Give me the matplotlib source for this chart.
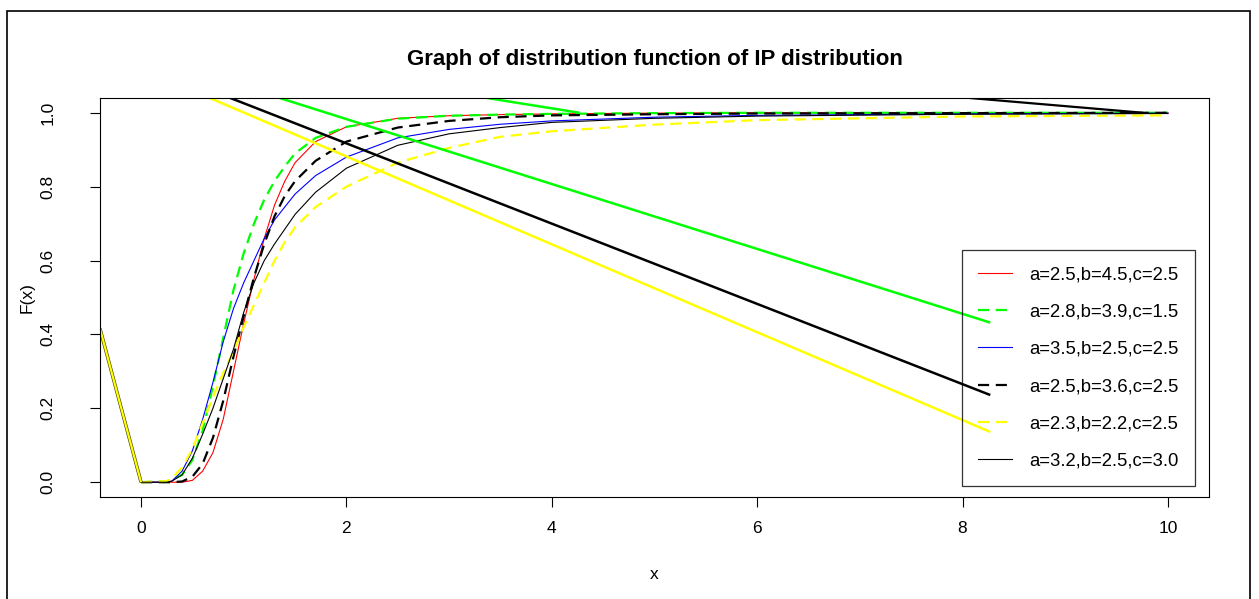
import numpy as np
import matplotlib
matplotlib.use("Agg")
import matplotlib.pyplot as plt
from matplotlib.lines import Line2D
from matplotlib.patches import Rectangle

plt.rcParams['font.family'] = ['Liberation Sans', 'DejaVu Sans']

# x values the curves were read at
x_vals = [0, 0.25, 0.3, 0.4, 0.5, 0.6, 0.7, 0.8, 0.9, 1.0, 1.1, 1.2, 1.3,
          1.4, 1.5, 1.7, 2.0, 2.5, 3.0, 3.5, 4.0, 5.0, 6.0, 8.0, 10.0]

# F(x) for each parameter set
F_red = [0, 0, 0, 0, 0.005, 0.03, 0.08, 0.17, 0.30, 0.43, 0.55, 0.66, 0.75,
         0.815, 0.865, 0.922, 0.962, 0.985, 0.992, 0.995, 0.997, 0.999, 1.0, 1.0, 1.0]
F_green = [0, 0.003, 0.006, 0.02, 0.06, 0.14, 0.26, 0.39, 0.52, 0.62, 0.70, 0.765, 0.815,
           0.855, 0.89, 0.932, 0.962, 0.984, 0.992, 0.995, 0.997, 0.999, 1.0, 1.0, 1.0]
F_blue = [0, 0, 0.003, 0.03, 0.085, 0.17, 0.27, 0.38, 0.47, 0.54, 0.60, 0.66, 0.71,
          0.745, 0.78, 0.83, 0.88, 0.932, 0.955, 0.969, 0.978, 0.988, 0.993, 0.997, 0.999]
F_black_d = [0, 0, 0, 0.002, 0.015, 0.05, 0.12, 0.22, 0.34, 0.45, 0.555, 0.645, 0.72,
             0.775, 0.815, 0.87, 0.922, 0.96, 0.978, 0.988, 0.993, 0.996, 0.998, 0.999, 1.0]
F_yellow = [0, 0.003, 0.01, 0.04, 0.09, 0.16, 0.23, 0.295, 0.355, 0.42, 0.48, 0.54, 0.60,
            0.65, 0.69, 0.745, 0.80, 0.865, 0.905, 0.935, 0.95, 0.968, 0.98, 0.99, 0.993]
F_black = [0, 0, 0.003, 0.02, 0.065, 0.13, 0.2, 0.28, 0.36, 0.46, 0.54, 0.60, 0.645,
           0.685, 0.725, 0.785, 0.85, 0.912, 0.943, 0.96, 0.974, 0.985, 0.991, 0.996, 0.998]

labels = ["a=2.5,b=4.5,c=2.5", "a=2.8,b=3.9,c=1.5", "a=3.5,b=2.5,c=2.5",
          "a=2.5,b=3.6,c=2.5", "a=2.3,b=2.2,c=2.5", "a=3.2,b=2.5,c=3.0"]

# stray straight segments in the original (x0, y0, x1, y1, colour)
seg_x0 = [-0.4, -0.4, 0.67, 0.87, 1.35, 3.37, 8.07]
seg_y0 = [0.416, 0.416, 1.04, 1.04, 1.04, 1.04, 1.04]
seg_x1 = [0.0, 0.0, 8.27, 8.27, 8.27, 4.27, 9.76]
seg_y1 = [0.0, 0.0, 0.136, 0.236, 0.432, 1.0, 1.0]
seg_col = ["#333300", "#FFFF00", "#FFFF00", "black", "#00FF00", "#00FF00", "black"]
seg_lw = [2.4, 1.6, 1.8, 1.8, 1.8, 1.8, 1.6]

fig = plt.figure(figsize=(12.59, 5.99), dpi=100)
ax = fig.add_axes([0.0794, 0.1703, 0.8809, 0.6661])

dash = (0, (5, 3))
curves = [
    (F_red, "#FF0000", "-", 0.8),
    (F_green, "#00FF00", dash, 1.6),
    (F_blue, "#0000FF", "-", 0.8),
    (F_black_d, "black", dash, 1.6),
    (F_yellow, "#FFFF00", dash, 1.6),
    (F_black, "black", "-", 0.8),
]
handles = []
for F, col, ls, lw in curves:
    ax.plot(x_vals, F, color=col, linestyle=ls, linewidth=lw)
    handles.append(Line2D([], [], color=col, linestyle=ls, linewidth=lw))

for i in range(len(seg_x0)):
    ax.plot([seg_x0[i], seg_x1[i]], [seg_y0[i], seg_y1[i]],
            color=seg_col[i], linewidth=seg_lw[i], solid_capstyle='butt')

ax.set_xlim(-0.4, 10.4)
ax.set_ylim(-0.04, 1.04)
ax.set_xticks([0, 2, 4, 6, 8, 10])
ax.set_yticks([0.0, 0.2, 0.4, 0.6, 0.8, 1.0])
ax.set_yticklabels(["0.0", "0.2", "0.4", "0.6", "0.8", "1.0"], rotation=90, va='center')
ax.tick_params(direction='out', length=7, width=0.8, labelsize=12.5)
ax.tick_params(axis='x', pad=10.5)
ax.tick_params(axis='y', pad=25)
for sp in ax.spines.values():
    sp.set_linewidth(0.8)

ax.set_xlabel("x", fontsize=12.5, labelpad=22)
ax.set_ylabel("F(x)", fontsize=12.5, labelpad=4)
ax.set_title("Graph of distribution function of IP distribution",
             fontsize=16, fontweight='bold', pad=23.5)

leg = ax.legend(handles, labels, loc='upper left', bbox_to_anchor=(0.777, 0.62),
                fontsize=13.3, frameon=True, fancybox=False, facecolor='none',
                edgecolor='black', handlelength=1.85, handletextpad=0.92,
                labelspacing=1.1, borderpad=0.9, borderaxespad=0)
leg.get_frame().set_linewidth(0.9)

# outer frame round the whole figure
fig.patches.append(Rectangle((7 / 1259, -0.02), 1243 / 1259, 1.02 - 10.5 / 599,
                             transform=fig.transFigure, fill=False,
                             edgecolor='black', linewidth=1.2))

fig.savefig("out.png", dpi=100)
